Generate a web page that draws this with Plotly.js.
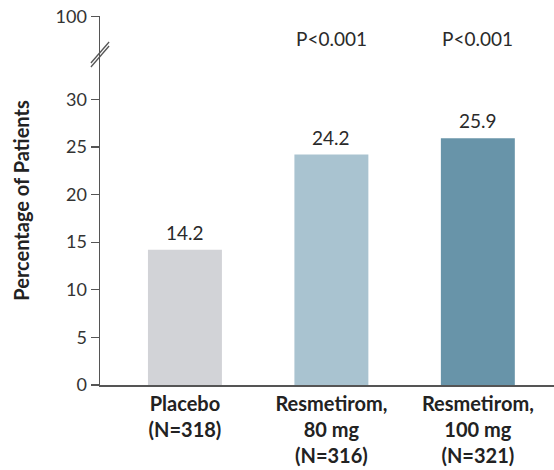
<!DOCTYPE html>
<html><head><meta charset="utf-8">
<script src="https://cdn.plot.ly/plotly-3.0.1.min.js"></script>
<style>html,body{margin:0;padding:0;background:#fff;}#chart{width:554px;height:470px;}</style>
</head><body><div id="chart"></div>
<script>
const categories = ["Placebo<br>(N=318)", "Resmetirom,<br>80 mg<br>(N=316)", "Resmetirom,<br>100 mg<br>(N=321)"];
const values = [14.2, 24.2, 25.9];
const valueLabels = ["14.2", "24.2", "25.9"];
const pLabels = ["", "P<0.001", "P<0.001"];
const barColors = ["#d2d3d7", "#a9c3d0", "#6894a9"];
const yTickVals = [0, 5, 10, 15, 20, 25, 30, 38.7];
const yTickText = ["0", "5", "10", "15", "20", "25", "30", "100"];

const xIdx = categories.map((c, i) => i);
const FONT = "Lato, 'Open Sans', sans-serif";

const annotations = [];
values.forEach((v, i) => {
  annotations.push({x: i, y: v, xref: 'x', yref: 'y', text: valueLabels[i], showarrow: false,
    yanchor: 'bottom', yshift: 4, font: {family: FONT, size: 19, color: '#2a2a2a'}});
  if (pLabels[i]) annotations.push({x: i, y: 1, xref: 'x', yref: 'paper', text: pLabels[i], showarrow: false,
    yanchor: 'middle', yshift: -22, font: {family: FONT, size: 19, color: '#2a2a2a'}});
});

const layout = {
  width: 554, height: 470,
  margin: {l: 100, r: 0, t: 16, b: 85},
  paper_bgcolor: '#fff', plot_bgcolor: '#fff',
  showlegend: false,
  bargap: 0.495,
  font: {family: FONT, color: '#2a2a2a'},
  xaxis: {
    range: [-0.58, 2.52], tickvals: xIdx, ticktext: categories,
    showline: true, linecolor: '#555', linewidth: 1.5, ticks: '', showgrid: false, zeroline: false,
    tickfont: {family: FONT, size: 20, color: '#222', weight: 'bold'}, fixedrange: true
  },
  yaxis: {
    range: [0, 38.75], tickvals: yTickVals, ticktext: yTickText,
    showline: true, linecolor: '#555', linewidth: 1.5, ticks: 'outside', ticklen: 8, tickwidth: 1.2, tickcolor: '#555',
    showgrid: false, zeroline: false,
    tickfont: {family: FONT, size: 18, color: '#333'},
    title: {text: 'Percentage of Patients', font: {family: FONT, size: 20, color: '#222', weight: 'bold'}, standoff: 20}
  },
  shapes: [
    {type: 'line', xref: 'paper', yref: 'paper', x0: -0.02, x1: 0.02, y0: (470-85-65+2)/369, y1: (470-85-44+2)/369, line: {color: '#555', width: 1.3}},
    {type: 'line', xref: 'paper', yref: 'paper', x0: -0.02, x1: 0.02, y0: (470-85-65-2)/369, y1: (470-85-44-2)/369, line: {color: '#555', width: 1.3}}
  ],
  annotations: annotations
};

Plotly.newPlot('chart', [{
  type: 'bar', x: xIdx, y: values, marker: {color: barColors}, hoverinfo: 'none'
}], layout, {staticPlot: true});
</script></body></html>
